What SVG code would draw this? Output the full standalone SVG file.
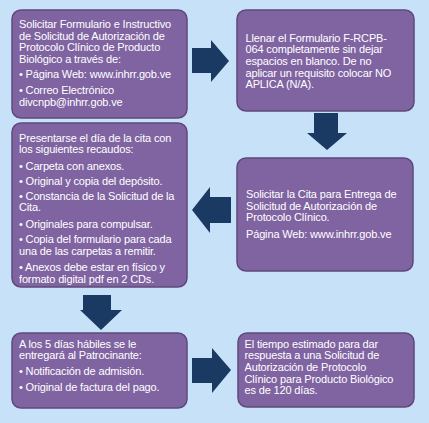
<svg xmlns="http://www.w3.org/2000/svg" width="429" height="423" viewBox="0 0 429 423">
<style>
.box{fill:#8064A2;stroke:#5F497A;stroke-width:1.5}
.t{font-family:"Liberation Sans",Arial,sans-serif;font-size:11px;fill:#FFFFFF;letter-spacing:-0.15px}
.arr{fill:#1A3A63}
</style>
<rect x="0" y="0" width="429" height="423" fill="#C6E1F8"/>
<g id="connectors">
<polygon class="arr" points="192,48 211,48 211,40 229,61 211,82 211,73 192,73"/>
<polygon class="arr" points="314,113 338,113 338,133 347,133 327,150 307,133 314,133"/>
<polygon class="arr" points="231,197 210,197 210,187 192,210 210,233 210,223 231,223"/>
<polygon class="arr" points="83,295 111,295 111,310 122,310 101,330 80,310 83,310"/>
<polygon class="arr" points="192,358 212,358 212,348 231,370 212,393 212,383 192,383"/>
</g>
<g id="node1">
<rect class="box" x="12" y="10" width="175" height="108" rx="9"/>
<text class="t" x="19" y="28">Solicitar Formulario e Instructivo</text>
<text class="t" x="19" y="39.7">de Solicitud de Autorización de</text>
<text class="t" x="19" y="51.3">Protocolo Clínico de Producto</text>
<text class="t" x="19" y="63">Biológico a través de:</text>
<text class="t" x="19" y="78">• Página Web: www.inhrr.gob.ve</text>
<text class="t" x="19" y="94">• Correo Electrónico</text>
<text class="t" x="19" y="105.7">divcnpb@inhrr.gob.ve</text>
</g>
<g id="node2">
<rect class="box" x="237" y="10" width="177" height="101" rx="9"/>
<text class="t" x="245.5" y="41.5">Llenar el Formulario F-RCPB-</text>
<text class="t" x="245.5" y="53.2">064 completamente sin dejar</text>
<text class="t" x="245.5" y="64.8">espacios en blanco. De no</text>
<text class="t" x="245.5" y="76.5">aplicar un requisito colocar NO</text>
<text class="t" x="245.5" y="88.2">APLICA (N/A).</text>
</g>
<g id="node3">
<rect class="box" x="12" y="123" width="175" height="164" rx="9"/>
<text class="t" x="19" y="141.5">Presentarse el día de la cita con</text>
<text class="t" x="19" y="153">los siguientes recaudos:</text>
<text class="t" x="19" y="169.7">• Carpeta con anexos.</text>
<text class="t" x="19" y="184.7">• Original y copia del depósito.</text>
<text class="t" x="19" y="199.7">• Constancia de la Solicitud de la</text>
<text class="t" x="19" y="211.3">Cita.</text>
<text class="t" x="19" y="228">• Originales para compulsar.</text>
<text class="t" x="19" y="243">• Copia del formulario para cada</text>
<text class="t" x="19" y="254.7">una de las carpetas a remitir.</text>
<text class="t" x="19" y="271.3">• Anexos debe estar en físico y</text>
<text class="t" x="19" y="283">formato digital pdf en 2 CDs.</text>
</g>
<g id="node4">
<rect class="box" x="237" y="158" width="176" height="113" rx="9"/>
<text class="t" x="246" y="198">Solicitar la Cita para Entrega de</text>
<text class="t" x="246" y="209.7">Solicitud  de Autorización de</text>
<text class="t" x="246" y="221.3">Protocolo Clínico.</text>
<text class="t" x="246" y="238">Página Web: www.inhrr.gob.ve</text>
</g>
<g id="node5">
<rect class="box" x="12" y="333" width="175" height="75" rx="9"/>
<text class="t" x="19" y="347.5">A los 5 días hábiles  se le</text>
<text class="t" x="19" y="359">entregará al Patrocinante:</text>
<text class="t" x="19" y="374.7">• Notificación de admisión.</text>
<text class="t" x="19" y="390.7">• Original de factura  del pago.</text>
</g>
<g id="node6">
<rect class="box" x="238" y="333" width="176" height="74" rx="9"/>
<text class="t" x="244.5" y="347.5">El tiempo estimado para dar</text>
<text class="t" x="244.5" y="359.2">respuesta a una Solicitud de</text>
<text class="t" x="244.5" y="370.8">Autorización de Protocolo</text>
<text class="t" x="244.5" y="382.5">Clínico para Producto Biológico</text>
<text class="t" x="244.5" y="394.2">es de 120 días.</text>
</g>
</svg>
